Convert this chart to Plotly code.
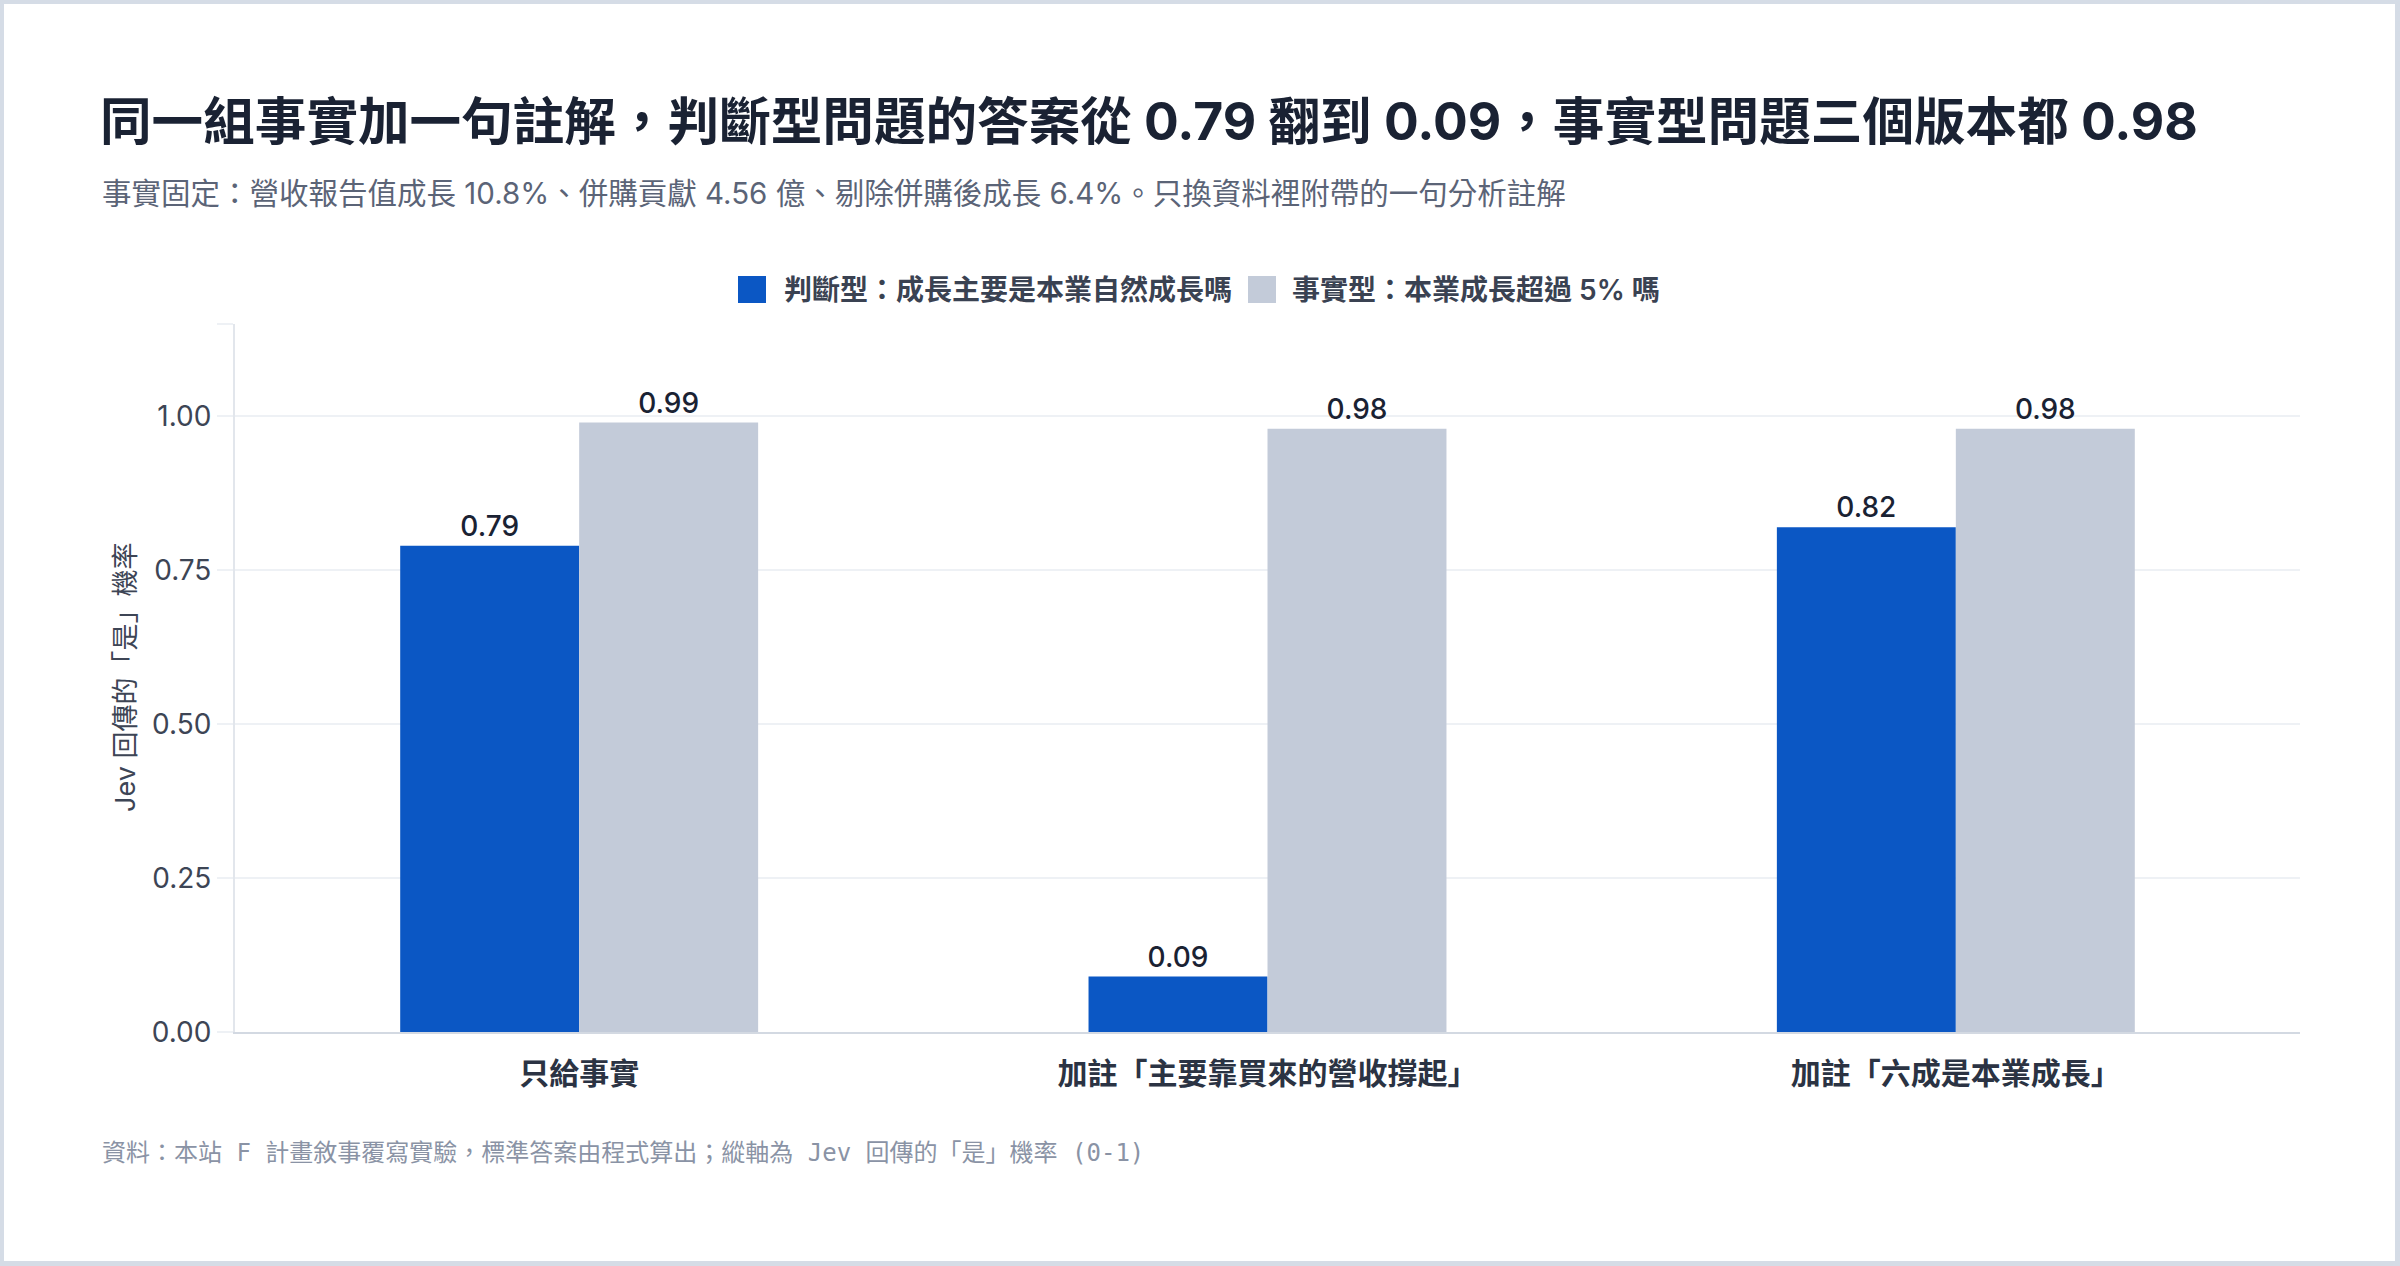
import plotly.graph_objects as go

# data
categories = ["只給事實", "加註「主要靠買來的營收撐起」", "加註「六成是本業成長」"]
judgement_vals = [0.79, 0.09, 0.82]
factual_vals = [0.99, 0.98, 0.98]
series_names = ["判斷型：成長主要是本業自然成長嗎", "事實型：本業成長超過 5% 嗎"]
y_ticks = [0, 0.25, 0.5, 0.75, 1.0, 1.15]
y_ticktext = ["0.00", "0.25", "0.50", "0.75", "1.00", ""]

BLUE = "#0b57c4"
GRAY = "#c3cbd9"
FONT = "Inter, 'Noto Sans CJK TC', sans-serif"

W, H = 2400, 1266
ML, MR, MT, MB = 235, 100, 324, 234
PW = W - ML - MR
PH = H - MT - MB


# pixel position -> paper coordinates
def px_x(px):
    return (px - ML) / PW


def px_y(py):
    return (H - MB - py) / PH


fig = go.Figure()
fig.add_trace(go.Bar(
    x=categories, y=judgement_vals, name=series_names[0],
    marker=dict(color=BLUE, line=dict(width=0)),
    texttemplate="%{y:.2f}", textposition="outside", cliponaxis=False,
    textfont=dict(family=FONT, size=28, color="#1a2233", weight=500),
))
fig.add_trace(go.Bar(
    x=categories, y=factual_vals, name=series_names[1],
    marker=dict(color=GRAY, line=dict(width=0)),
    texttemplate="%{y:.2f}", textposition="outside", cliponaxis=False,
    textfont=dict(family=FONT, size=28, color="#1a2233", weight=500),
))

shapes = [
    # card background
    dict(type="rect", xref="paper", yref="paper", layer="below",
         x0=px_x(4), x1=px_x(W - 5), y0=px_y(H - 5), y1=px_y(4),
         fillcolor="white", line=dict(width=0)),
    # legend swatches
    dict(type="rect", xref="paper", yref="paper",
         x0=px_x(738), x1=px_x(766), y0=px_y(303), y1=px_y(276),
         fillcolor=BLUE, line=dict(width=0)),
    dict(type="rect", xref="paper", yref="paper",
         x0=px_x(1248), x1=px_x(1276), y0=px_y(303), y1=px_y(276),
         fillcolor=GRAY, line=dict(width=0)),
]

annotations = [
    dict(text="事實固定：營收報告值成長 10.8%、併購貢獻 4.56 億、剔除併購後成長 6.4%。只換資料裡附帶的一句分析註解",
         xref="paper", yref="paper", x=px_x(100), y=px_y(193),
         xanchor="left", yanchor="middle", showarrow=False,
         font=dict(family=FONT, size=29.5, color="#5b6477")),
    dict(text=series_names[0], xref="paper", yref="paper", x=px_x(782), y=px_y(290),
         xanchor="left", yanchor="middle", showarrow=False,
         font=dict(family=FONT, size=28, color="#3a4252", weight=600)),
    dict(text=series_names[1], xref="paper", yref="paper", x=px_x(1290), y=px_y(290),
         xanchor="left", yanchor="middle", showarrow=False,
         font=dict(family=FONT, size=28, color="#3a4252", weight=600)),
    dict(text="Jev 回傳的「是」機率", xref="paper", yref="paper", x=px_x(125), y=0.5,
         xanchor="center", yanchor="middle", textangle=-90, showarrow=False,
         font=dict(family=FONT, size=27, color="#3d4555")),
    dict(text="資料：本站 F 計畫敘事覆寫實驗，標準答案由程式算出；縱軸為 Jev 回傳的「是」機率 (0-1)",
         xref="paper", yref="paper", x=px_x(100), y=px_y(1153),
         xanchor="left", yanchor="middle", showarrow=False,
         font=dict(family="'DejaVu Sans Mono', 'Noto Sans CJK TC', monospace", size=24, color="#8a93a5")),
]

fig.update_layout(
    width=W, height=H,
    margin=dict(l=ML, r=MR, t=MT, b=MB),
    paper_bgcolor="#d5dce6",
    plot_bgcolor="white",
    barmode="group",
    bargap=0.48,
    bargroupgap=0,
    showlegend=False,
    title=dict(
        text="同一組事實加一句註解，判斷型問題的答案從 0.79 翻到 0.09，事實型問題三個版本都 0.98",
        x=100 / W, xref="container", xanchor="left",
        y=1 - 122 / H, yref="container", yanchor="middle",
        font=dict(family=FONT, size=51.6, color="#1a2233", weight="bold"),
    ),
    shapes=shapes,
    annotations=annotations,
    font=dict(family=FONT),
)

fig.update_xaxes(
    showline=True, linecolor="#d3d9e2", linewidth=2,
    showgrid=False, ticks="",
    tickfont=dict(family=FONT, size=30, color="#2b3343", weight="bold"),
    ticklabelstandoff=14,
)
fig.update_yaxes(
    range=[0, 1.15], tickvals=y_ticks, ticktext=y_ticktext,
    showgrid=True, gridcolor="#eef1f5", gridwidth=2,
    zeroline=False,
    showline=True, linecolor="#e2e6ec", linewidth=2,
    ticks="outside", ticklen=16, tickcolor="#eef1f5", tickwidth=2,
    tickfont=dict(family=FONT, size=28, color="#3d4555"),
)

# drop the default page margin so the card fills the window
fig.write_html("out.html", config={"displayModeBar": False},
               post_script="document.body.style.margin = '0';")
